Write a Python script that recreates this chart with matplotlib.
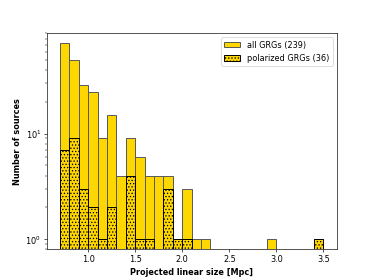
import numpy as np
import matplotlib
matplotlib.use("Agg")
import matplotlib.pyplot as plt

# bin left edges in Mpc, width 0.1
bin_left = [0.7, 0.8, 0.9, 1.0, 1.1, 1.2, 1.3, 1.4, 1.5, 1.6, 1.7, 1.8, 1.9,
            2.0, 2.1, 2.2, 2.9, 3.4]
all_counts = [72, 50, 29, 25, 9, 15, 4, 9, 6, 4, 4, 4, 1, 3, 1, 1, 1, 1]
pol_counts = [7, 9, 3, 2, 1, 2, 0, 4, 1, 1, 0, 3, 1, 1, 0, 0, 0, 1]
width = 0.1

fig = plt.figure(figsize=(6.4, 4.8), dpi=374 / 6.4)
ax = fig.add_subplot(111)

ax.bar(bin_left, all_counts, width=width, align='edge', color='gold',
       edgecolor='0.35', linewidth=1.2, label='all GRGs (239)')
pol_x = [x for x, c in zip(bin_left, pol_counts) if c > 0]
pol_y = [c for c in pol_counts if c > 0]
ax.bar(pol_x, pol_y, width=width, align='edge', color='gold',
       edgecolor='k', linewidth=1.2, hatch='...', label='polarized GRGs (36)')

ax.set_yscale('log')
ax.set_xlim(0.56, 3.64)
ax.set_ylim(0.8, 90)
ax.set_xlabel('Projected linear size [Mpc]', fontweight='bold')
ax.set_ylabel('Number of sources', fontweight='bold')
ax.legend(loc='upper right')

fig.savefig('out.png', dpi=374 / 6.4)
